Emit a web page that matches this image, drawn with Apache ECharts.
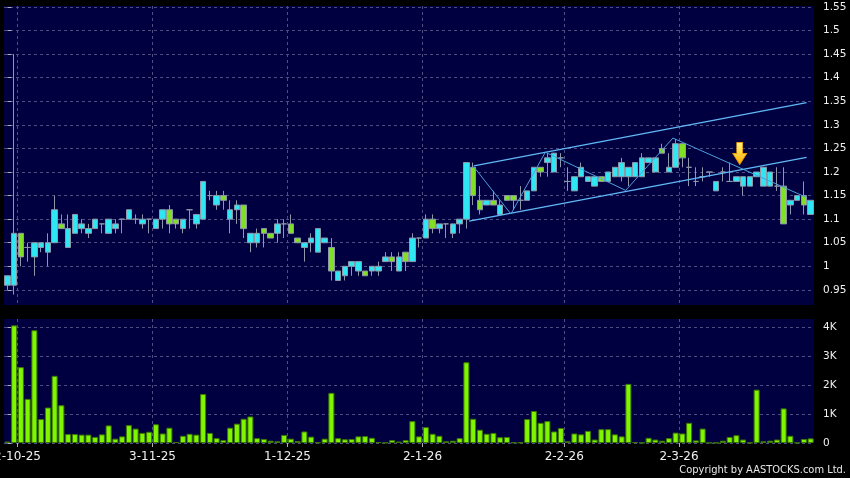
<!DOCTYPE html>
<html>
<head>
<meta charset="utf-8">
<script src="https://cdn.jsdelivr.net/npm/echarts@6.0.0/dist/echarts.min.js"></script>
<style>
  html, body { margin: 0; padding: 0; background: #000; }
  #main { width: 850px; height: 478px; }
</style>
</head>
<body>
<div id="main"></div>
<script>
// trading days, d-m-yy
var dates = [
  '29-9-25', '30-9-25',
  '2-10-25', '3-10-25', '6-10-25', '8-10-25', '9-10-25', '10-10-25', '13-10-25', '14-10-25', '15-10-25', '16-10-25',
  '17-10-25', '20-10-25', '21-10-25', '22-10-25', '23-10-25', '24-10-25', '27-10-25', '28-10-25', '30-10-25', '31-10-25',
  '3-11-25', '4-11-25', '5-11-25', '6-11-25', '7-11-25', '10-11-25', '11-11-25', '12-11-25', '13-11-25', '14-11-25',
  '17-11-25', '18-11-25', '19-11-25', '20-11-25', '21-11-25', '24-11-25', '25-11-25', '26-11-25', '27-11-25', '28-11-25',
  '1-12-25', '2-12-25', '3-12-25', '4-12-25', '5-12-25', '8-12-25', '9-12-25', '10-12-25', '11-12-25', '12-12-25',
  '15-12-25', '16-12-25', '17-12-25', '18-12-25', '19-12-25', '22-12-25', '23-12-25', '24-12-25', '29-12-25', '30-12-25',
  '2-1-26', '5-1-26', '6-1-26', '7-1-26', '8-1-26', '9-1-26', '12-1-26', '13-1-26', '14-1-26', '15-1-26', '16-1-26',
  '19-1-26', '20-1-26', '21-1-26', '22-1-26', '23-1-26', '26-1-26', '27-1-26', '28-1-26', '29-1-26', '30-1-26',
  '2-2-26', '3-2-26', '4-2-26', '5-2-26', '6-2-26', '9-2-26', '10-2-26', '11-2-26', '12-2-26', '13-2-26',
  '16-2-26', '20-2-26', '23-2-26', '24-2-26', '25-2-26', '26-2-26', '27-2-26',
  '2-3-26', '3-3-26', '4-3-26', '5-3-26', '6-3-26', '9-3-26', '10-3-26', '11-3-26', '12-3-26', '13-3-26',
  '16-3-26', '17-3-26', '18-3-26', '19-3-26', '20-3-26', '23-3-26', '24-3-26', '25-3-26', '26-3-26', '27-3-26'
];

var opens = [
  0.96, 0.96, 1.07, 1.04, 1.02, 1.04, 1.03, 1.05, 1.09, 1.04,
  1.07, 1.08, 1.07, 1.08, 1.09, 1.07, 1.08, 1.10, 1.10, 1.10,
  1.09, 1.10, 1.08, 1.10, 1.12, 1.10, 1.08, 1.12, 1.09, 1.10,
  1.15, 1.13, 1.15, 1.10, 1.12, 1.13, 1.05, 1.05, 1.08, 1.07,
  1.07, 1.09, 1.09, 1.06, 1.04, 1.05, 1.03, 1.05, 1.04, 0.97,
  0.98, 1.00, 0.99, 0.99, 0.99, 0.99, 1.01, 1.02, 0.99, 1.03,
  1.01, 1.06, 1.06, 1.10, 1.08, 1.09, 1.07, 1.09, 1.10, 1.21,
  1.14, 1.13, 1.14, 1.11, 1.15, 1.15, 1.14, 1.14, 1.16, 1.21,
  1.22, 1.20, 1.23, 1.18, 1.16, 1.19, 1.18, 1.17, 1.19, 1.18,
  1.19, 1.19, 1.19, 1.19, 1.19, 1.22, 1.20, 1.25, 1.20, 1.21,
  1.26, 1.21, 1.18, 1.19, 1.20, 1.16, 1.20, 1.18, 1.18, 1.17,
  1.17, 1.19, 1.17, 1.17, 1.17, 1.17, 1.13, 1.14, 1.15, 1.11
];
var closes = [
  0.98, 1.07, 1.02, 1.04, 1.05, 1.05, 1.05, 1.12, 1.08, 1.08,
  1.11, 1.09, 1.08, 1.10, 1.09, 1.10, 1.09, 1.10, 1.12, 1.10,
  1.10, 1.10, 1.10, 1.12, 1.09, 1.09, 1.10, 1.12, 1.11, 1.18,
  1.15, 1.15, 1.14, 1.12, 1.13, 1.08, 1.07, 1.07, 1.07, 1.06,
  1.09, 1.09, 1.07, 1.05, 1.05, 1.06, 1.08, 1.06, 0.99, 0.99,
  1.00, 1.01, 1.01, 0.98, 1.00, 1.00, 1.02, 1.01, 1.02, 1.01,
  1.06, 1.06, 1.10, 1.08, 1.09, 1.09, 1.09, 1.10, 1.22, 1.15,
  1.12, 1.14, 1.13, 1.13, 1.14, 1.14, 1.14, 1.16, 1.21, 1.20,
  1.23, 1.24, 1.23, 1.18, 1.19, 1.21, 1.19, 1.19, 1.18, 1.20,
  1.21, 1.22, 1.21, 1.22, 1.23, 1.23, 1.23, 1.24, 1.21, 1.26,
  1.23, 1.21, 1.18, 1.19, 1.20, 1.18, 1.20, 1.18, 1.19, 1.19,
  1.19, 1.20, 1.21, 1.20, 1.17, 1.09, 1.14, 1.15, 1.13, 1.14
];
var lows = [
  0.95, 0.94, 1.00, 1.01, 0.98, 1.03, 1.00, 1.05, 1.08, 1.04,
  1.07, 1.07, 1.06, 1.08, 1.07, 1.07, 1.07, 1.07, 1.10, 1.09,
  1.08, 1.07, 1.08, 1.08, 1.07, 1.08, 1.07, 1.08, 1.08, 1.10,
  1.14, 1.12, 1.12, 1.07, 1.09, 1.06, 1.03, 1.04, 1.04, 1.06,
  1.05, 1.06, 1.07, 1.05, 1.01, 1.03, 1.03, 1.05, 0.97, 0.97,
  0.97, 0.98, 0.98, 0.98, 0.98, 0.98, 1.01, 0.99, 0.99, 0.99,
  1.01, 1.04, 1.06, 1.07, 1.07, 1.06, 1.06, 1.07, 1.08, 1.13,
  1.11, 1.13, 1.13, 1.11, 1.14, 1.12, 1.12, 1.14, 1.16, 1.19,
  1.19, 1.20, 1.21, 1.16, 1.16, 1.19, 1.18, 1.17, 1.18, 1.18,
  1.19, 1.18, 1.17, 1.19, 1.19, 1.22, 1.20, 1.24, 1.20, 1.21,
  1.21, 1.17, 1.17, 1.18, 1.19, 1.16, 1.18, 1.18, 1.18, 1.15,
  1.17, 1.19, 1.17, 1.17, 1.16, 1.09, 1.11, 1.14, 1.11, 1.11
];
var highs = [
  0.98, 1.45, 1.07, 1.05, 1.05, 1.05, 1.07, 1.15, 1.11, 1.11,
  1.11, 1.10, 1.09, 1.10, 1.09, 1.10, 1.10, 1.10, 1.12, 1.11,
  1.11, 1.10, 1.10, 1.12, 1.13, 1.10, 1.10, 1.12, 1.11, 1.18,
  1.16, 1.16, 1.16, 1.14, 1.14, 1.13, 1.07, 1.08, 1.08, 1.07,
  1.10, 1.10, 1.11, 1.06, 1.05, 1.07, 1.08, 1.06, 1.06, 0.99,
  1.00, 1.01, 1.01, 0.99, 1.00, 1.01, 1.03, 1.03, 1.03, 1.03,
  1.07, 1.06, 1.11, 1.11, 1.09, 1.09, 1.09, 1.10, 1.22, 1.22,
  1.17, 1.14, 1.16, 1.14, 1.15, 1.15, 1.17, 1.16, 1.21, 1.21,
  1.24, 1.24, 1.24, 1.21, 1.19, 1.22, 1.19, 1.19, 1.19, 1.20,
  1.21, 1.23, 1.21, 1.22, 1.24, 1.23, 1.23, 1.26, 1.24, 1.27,
  1.26, 1.23, 1.21, 1.21, 1.20, 1.18, 1.21, 1.22, 1.19, 1.19,
  1.19, 1.20, 1.21, 1.20, 1.21, 1.21, 1.14, 1.15, 1.18, 1.14
];
var volumes = [
  50, 4080, 2630, 1530, 3910, 830, 1230, 2330, 1310, 310,
  310, 290, 290, 210, 300, 610, 150, 230, 620, 500,
  350, 390, 650, 330, 530, 30, 250, 320, 290, 1700,
  350, 170, 100, 530, 670, 840, 920, 170, 140, 80,
  60, 280, 150, 70, 400, 220, 20, 150, 1740, 170,
  130, 140, 230, 240, 180, 30, 10, 100, 50, 100,
  760, 230, 550, 320, 250, 60, 80, 170, 2800, 840,
  460, 320, 350, 200, 210, 20, 20, 830, 1110, 700,
  760, 400, 520, 60, 330, 300, 420, 120, 480, 480,
  300, 230, 2050, 30, 10, 180, 120, 80, 170, 360,
  330, 700, 90, 500, 10, 10, 80, 210, 270, 120,
  10, 1850, 60, 80, 120, 1200, 250, 10, 140, 160
];

var priceTicks = [0.95, 1, 1.05, 1.1, 1.15, 1.2, 1.25, 1.3, 1.35, 1.4, 1.45, 1.5, 1.55];
var volumeTicks = [0, 1000, 2000, 3000, 4000];

// drawn trend lines: [day index, price]
var channelTop = [[69.1, 1.213], [118.4, 1.347]];
var channelBottom = [[68.4, 1.096], [118.4, 1.231]];
var zigzag = [[69.1, 1.211], [74.6, 1.111], [79.7, 1.242], [91.6, 1.161], [98.6, 1.272], [118.4, 1.146]];
var arrowPoint = [[108.5, 1.239]];

var candleData = dates.map(function (d, i) {
  return [opens[i], closes[i], lows[i], highs[i]];
});

function monthStart(i) {
  if (i === 0) return false;
  return dates[i].split('-')[1] !== dates[i - 1].split('-')[1];
}
// month separators sit on the left edge of the first trading day
var monthTicks = [];
dates.forEach(function (d, i) {
  if (monthStart(i)) monthTicks.push(i - 0.5);
});

var gridLine = { show: true, lineStyle: { color: '#4e4e82', type: [3, 3], width: 1 } };
var font = 'DejaVu Sans';
var lastIndex = dates.length - 1;

var myChart = echarts.init(document.getElementById('main'));
myChart.setOption({
  animation: false,
  backgroundColor: '#000000',
  grid: [
    { left: 4, right: 36, top: 6, height: 299, show: true, backgroundColor: '#000040', borderWidth: 0, outerBoundsMode: 'none' },
    { left: 4, right: 36, top: 319, height: 124, show: true, backgroundColor: '#000040', borderWidth: 0, outerBoundsMode: 'none' }
  ],
  xAxis: [
    { type: 'category', gridIndex: 0, position: 'top', data: dates, boundaryGap: true, show: false },
    { type: 'category', gridIndex: 1, position: 'top', data: dates, boundaryGap: true, show: false },
    {
      type: 'value', gridIndex: 0, position: 'bottom', min: -0.5, max: lastIndex + 0.5,
      axisLine: { show: false }, axisLabel: { show: false },
      axisTick: { show: false, customValues: monthTicks },
      splitLine: gridLine
    },
    {
      type: 'value', gridIndex: 1, position: 'bottom', min: -0.5, max: lastIndex + 0.5,
      axisLine: { show: false },
      axisTick: { show: true, length: 4, customValues: monthTicks, lineStyle: { color: '#b0b0b0' } },
      axisLabel: {
        customValues: monthTicks, color: '#f0f0f0', fontSize: 12, fontFamily: font, margin: 8,
        formatter: function (v) { return dates[Math.round(v + 0.5)]; }
      },
      splitLine: gridLine
    }
  ],
  yAxis: [
    {
      type: 'value', gridIndex: 0, position: 'right', min: 0.918, max: 1.552, offset: 3,
      axisLine: { show: false },
      axisTick: { show: true, length: 4, customValues: priceTicks, lineStyle: { color: '#b0b0b0' } },
      axisLabel: { customValues: priceTicks, color: '#f0f0f0', fontSize: 10.5, fontFamily: font, margin: 6 },
      splitLine: gridLine
    },
    {
      type: 'value', gridIndex: 1, position: 'right', min: 0, max: 4300, offset: 3,
      axisLine: { show: false },
      axisTick: { show: true, length: 4, customValues: volumeTicks, lineStyle: { color: '#b0b0b0' } },
      axisLabel: {
        customValues: volumeTicks, color: '#f0f0f0', fontSize: 10.5, fontFamily: font, margin: 6,
        formatter: function (v) { return v === 0 ? '0' : (v / 1000) + 'K'; }
      },
      splitLine: gridLine
    }
  ],
  series: [
    {
      type: 'candlestick', xAxisIndex: 0, yAxisIndex: 0, data: candleData, barWidth: 6,
      itemStyle: {
        color: '#30e6f2', color0: '#7fe024',
        borderColor: '#8f98a8', borderColor0: '#8f98a8', borderColorDoji: '#8f98a8', borderWidth: 1
      }
    },
    {
      type: 'bar', xAxisIndex: 1, yAxisIndex: 1, data: volumes, barWidth: 6,
      itemStyle: { color: '#80f500', borderColor: '#3c7800', borderWidth: 1 }
    },
    {
      type: 'line', xAxisIndex: 2, yAxisIndex: 0, data: channelTop, symbol: 'none',
      lineStyle: { color: '#62b8f6', width: 1.3 }
    },
    {
      type: 'line', xAxisIndex: 2, yAxisIndex: 0, data: channelBottom, symbol: 'none',
      lineStyle: { color: '#62b8f6', width: 1.3 }
    },
    {
      type: 'line', xAxisIndex: 2, yAxisIndex: 0, data: zigzag, symbol: 'none',
      lineStyle: { color: '#4d9fdc', width: 1 }
    },
    {
      type: 'scatter', xAxisIndex: 2, yAxisIndex: 0, data: arrowPoint, z: 5,
      symbol: 'path://M4,0 L10,0 L10,11 L14,11 L7,22 L0,11 L4,11 Z', symbolSize: [14, 22],
      itemStyle: {
        opacity: 1,
        color: new echarts.graphic.LinearGradient(0, 0, 0, 1, [
          { offset: 0, color: '#fff48a' }, { offset: 0.5, color: '#ffd23a' }, { offset: 1, color: '#ffa800' }
        ]),
        borderColor: '#e89a00', borderWidth: 0.8
      }
    }
  ],
  graphic: [
    {
      type: 'text', right: 4, top: 465,
      style: { text: 'Copyright by AASTOCKS.com Ltd.', fill: '#e8e8e8', font: '11px "DejaVu Sans Condensed", "DejaVu Sans"' }
    }
  ]
});
</script>
</body>
</html>
